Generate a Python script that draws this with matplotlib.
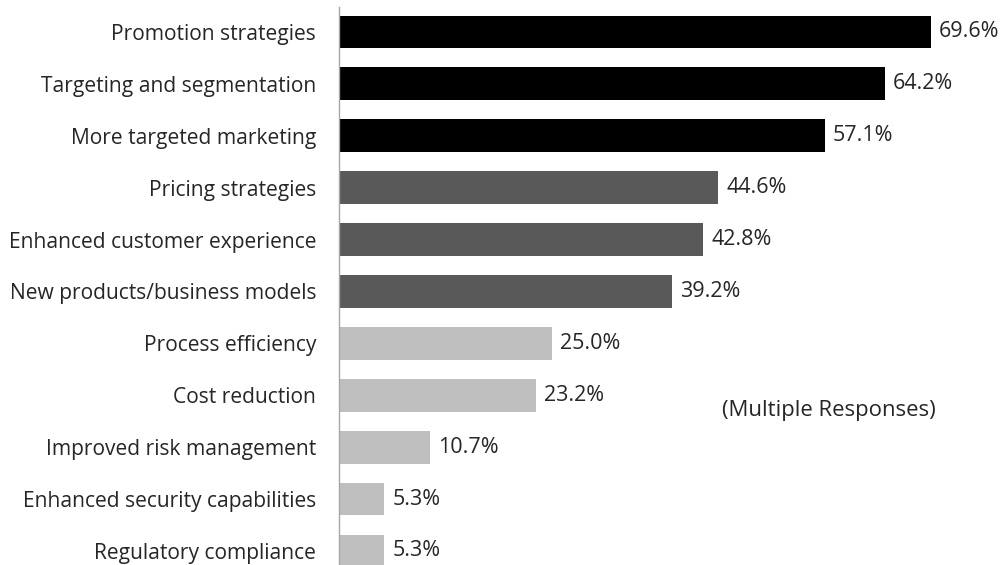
import matplotlib
matplotlib.use('Agg')
import matplotlib.pyplot as plt

plt.rcParams['font.family'] = ['Open Sans', 'DejaVu Sans']

categories = [
    'Promotion strategies',
    'Targeting and segmentation',
    'More targeted marketing',
    'Pricing strategies',
    'Enhanced customer experience',
    'New products/business models',
    'Process efficiency',
    'Cost reduction',
    'Improved risk management',
    'Enhanced security capabilities',
    'Regulatory compliance',
]
values = [69.6, 64.2, 57.1, 44.6, 42.8, 39.2, 25.0, 23.2, 10.7, 5.3, 5.3]
tiers = [0, 0, 0, 1, 1, 1, 2, 2, 2, 2, 2]
tier_colors = ['#000000', '#595959', '#bfbfbf']
note = '(Multiple Responses)'

text_color = '#262626'

fig = plt.figure(figsize=(10.04, 5.65), dpi=100)
ax = fig.add_axes([339 / 1004, 0, 665 / 1004, 1 - 7 / 565])

ypos = list(range(len(categories)))
ax.barh(ypos, values, height=0.63,
        color=[tier_colors[t] for t in tiers], zorder=2)

for y, v in zip(ypos, values):
    ax.text(v + 0.95, y, f'{v:.1f}%', va='center', ha='left',
            fontsize=15.5, color=text_color)

ax.set_xlim(0, 78.2)
ax.set_ylim(10.27, -0.48)
ax.set_yticks(ypos)
ax.set_yticklabels(categories, fontsize=15.1, color=text_color)
ax.tick_params(axis='y', length=0, pad=16.5)
ax.set_xticks([])

for side in ['top', 'right', 'bottom']:
    ax.spines[side].set_visible(False)
ax.spines['left'].set_color('#a6a6a6')
ax.spines['left'].set_linewidth(1.0)

ax.text(45.0, 7.3, note, va='center', ha='left',
        fontsize=15.9, color=text_color)

fig.savefig('out.png', dpi=100)
